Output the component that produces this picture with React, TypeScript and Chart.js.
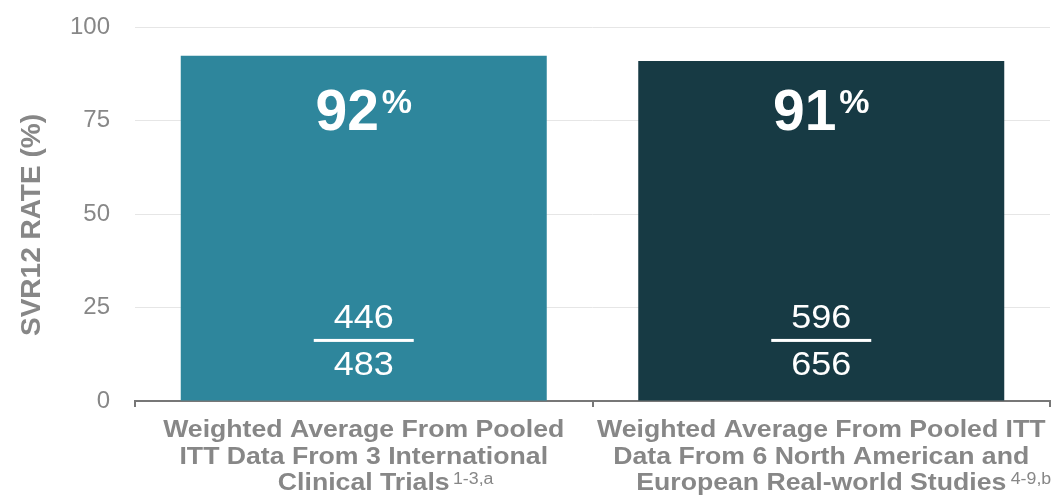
import React, { useEffect, useRef } from "react";
import { Chart, registerables } from "chart.js";

Chart.register(...registerables);

const categoryLines: string[][] = [
  ["Weighted Average From Pooled", "ITT Data From 3 International", "Clinical Trials"],
  ["Weighted Average From Pooled ITT", "Data From 6 North American and", "European Real-world Studies"],
];
const footnotes: string[] = ["1-3,a", "4-9,b"];
const footnoteGap: number[] = [3, 4];
const svrRates: number[] = [92.3, 90.9];
const responders: number[] = [446, 596];
const totals: number[] = [483, 656];
const barColors: string[] = ["#2e869c", "#173a44"];
const yTicks: number[] = [0, 25, 50, 75, 100];
const yTitle = "SVR12 RATE (%)";

const FONT = "'Liberation Sans', Arial, sans-serif";
const GRAY = "#878787";
const STRETCH = 1.11;

const labelsPlugin = {
  id: "customLabels",
  afterDatasetsDraw(chart: any) {
    const ctx = chart.ctx;
    const meta = chart.getDatasetMeta(0);
    const y = chart.scales.y;
    const x = chart.scales.x;
    ctx.save();
    meta.data.forEach((bar: any, i: number) => {
      const cx = bar.x;
      const big = String(Math.round(svrRates[i]));
      ctx.fillStyle = "#ffffff";
      ctx.font = `bold 57px ${FONT}`;
      const wBig = ctx.measureText(big).width;
      ctx.font = `bold 34px ${FONT}`;
      const wPct = ctx.measureText("%").width;
      const total = wBig + 3 + wPct;
      const left = cx - total / 2;
      const base = y.getPixelForValue(72.5);
      ctx.textBaseline = "alphabetic";
      ctx.textAlign = "left";
      ctx.font = `bold 57px ${FONT}`;
      ctx.fillText(big, left, base);
      ctx.font = `bold 34px ${FONT}`;
      ctx.fillText("%", left + wBig + 3, base - 16.5);
      ctx.font = `34px ${FONT}`;
      ctx.textAlign = "center";
      ctx.textBaseline = "middle";
      ctx.save();
      ctx.translate(cx, 0);
      ctx.scale(1.06, 1);
      ctx.fillText(String(responders[i]), 0, y.getPixelForValue(21.9));
      ctx.fillText(String(totals[i]), 0, y.getPixelForValue(9.5));
      ctx.restore();
      const lineY = y.getPixelForValue(16.2);
      ctx.fillRect(cx - 50, lineY - 1.5, 100, 3);
    });
    const bottom = x.top;
    categoryLines.forEach((lines, i) => {
      const cx = x.getPixelForTick(i);
      ctx.save();
      ctx.translate(cx, 0);
      ctx.scale(STRETCH, 1);
      ctx.fillStyle = GRAY;
      ctx.textBaseline = "alphabetic";
      lines.forEach((line, j) => {
        const by = bottom + 36 + j * 26.5;
        ctx.font = `bold 24px ${FONT}`;
        ctx.textAlign = "center";
        ctx.fillText(line, 0, by);
        if (j === lines.length - 1) {
          const w = ctx.measureText(line).width;
          ctx.textAlign = "left";
          ctx.font = `16px ${FONT}`;
          ctx.fillText(footnotes[i], w / 2 + footnoteGap[i], by - 6);
        }
      });
      ctx.restore();
    });
    ctx.save();
    ctx.translate(40, (y.top + y.bottom) / 2 + 11);
    ctx.rotate(-Math.PI / 2);
    ctx.fillStyle = GRAY;
    ctx.font = `bold 28px ${FONT}`;
    ctx.textAlign = "center";
    ctx.textBaseline = "alphabetic";
    ctx.fillText(yTitle, 0, 0);
    ctx.restore();
    ctx.restore();
  },
};

export default function App() {
  const ref = useRef<HTMLCanvasElement>(null);
  useEffect(() => {
    if (!ref.current) return;
    const chart = new Chart(ref.current, {
      type: "bar",
      data: {
        labels: categoryLines.map((l) => l.join(" ")),
        datasets: [
          {
            data: svrRates,
            backgroundColor: barColors,
            categoryPercentage: 0.8,
            barPercentage: 1,
            borderWidth: 0,
          },
        ],
      },
      plugins: [labelsPlugin],
      options: {
        animation: false,
        responsive: true,
        maintainAspectRatio: false,
        layout: { padding: { top: 0, right: 6, left: 0, bottom: 0 } },
        plugins: { legend: { display: false }, tooltip: { enabled: false } },
        scales: {
          x: {
            ticks: { display: false },
            grid: {
              offset: true,
              drawOnChartArea: false,
              drawTicks: true,
              tickLength: 6,
              color: "#777777",
              lineWidth: 2,
            },
            border: { display: true, color: "#777777", width: 2 },
            afterFit: (s: any) => {
              s.height = 101;
            },
          },
          y: {
            min: 0,
            max: 100,
            afterBuildTicks: (s: any) => {
              s.ticks = yTicks.map((v) => ({ value: v }));
            },
            ticks: {
              color: GRAY,
              font: { family: FONT, size: 24, lineHeight: 0.17 },
              padding: 25,
            },
            grid: { color: "#e6e6e6", lineWidth: 1, drawTicks: false },
            border: { display: false },
            title: { display: false },
            afterFit: (s: any) => {
              s.width = 135;
            },
          },
        },
      },
    });
    return () => chart.destroy();
  }, []);
  return (
    <div style={{ position: "fixed", left: 0, top: 0, width: 1056, height: 502, background: "#fff" }}>
      <canvas ref={ref} />
    </div>
  );
}
